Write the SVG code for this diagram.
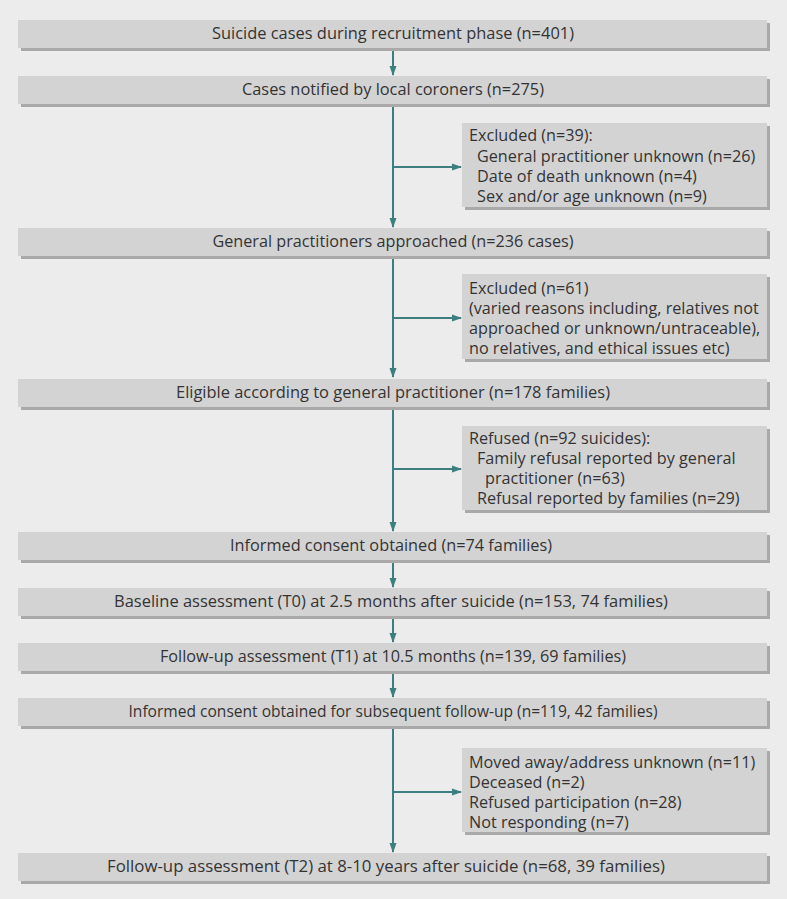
<svg xmlns="http://www.w3.org/2000/svg" width="787" height="899" viewBox="0 0 787 899">
<defs>
<style>
.bg{fill:#ececec}
.box{fill:#d3d3d3}
.sh{fill:#a9a9a9}
.t{font-family:"Open Sans","Liberation Sans",sans-serif;font-size:16.2px;fill:#333333}
.c{text-anchor:middle}
.ln{stroke:#3d7f80;stroke-width:2;fill:none}
</style>
<marker id="ah" markerWidth="10" markerHeight="8" refX="9" refY="4" orient="auto" markerUnits="userSpaceOnUse">
<path d="M0,0.5 L10,4 L0,7.5 Z" fill="#3d7f80"/>
</marker>
</defs>
<rect class="bg" x="0" y="0" width="787" height="899"/>

<g id="connectors">
<line class="ln" x1="393" y1="48" x2="393" y2="75" marker-end="url(#ah)"/>
<line class="ln" x1="393" y1="105" x2="393" y2="227" marker-end="url(#ah)"/>
<line class="ln" x1="393" y1="167" x2="461" y2="167" marker-end="url(#ah)"/>
<line class="ln" x1="393" y1="257" x2="393" y2="377" marker-end="url(#ah)"/>
<line class="ln" x1="393" y1="318" x2="461" y2="318" marker-end="url(#ah)"/>
<line class="ln" x1="393" y1="408" x2="393" y2="531" marker-end="url(#ah)"/>
<line class="ln" x1="393" y1="469" x2="461" y2="469" marker-end="url(#ah)"/>
<line class="ln" x1="393" y1="561" x2="393" y2="587" marker-end="url(#ah)"/>
<line class="ln" x1="393" y1="617" x2="393" y2="642" marker-end="url(#ah)"/>
<line class="ln" x1="393" y1="672" x2="393" y2="697" marker-end="url(#ah)"/>
<line class="ln" x1="393" y1="727" x2="393" y2="852" marker-end="url(#ah)"/>
<line class="ln" x1="393" y1="792" x2="461" y2="792" marker-end="url(#ah)"/>
</g>

<g id="n1"><rect class="sh" x="21" y="23" width="749" height="28"/><rect class="box" x="18" y="20" width="749" height="28"/><text class="t c" x="393" y="39" textLength="362" lengthAdjust="spacingAndGlyphs">Suicide cases during recruitment phase (n=401)</text></g>
<g id="n2"><rect class="sh" x="21" y="79" width="749" height="28"/><rect class="box" x="18" y="76" width="749" height="28"/><text class="t c" x="393" y="95" textLength="302" lengthAdjust="spacingAndGlyphs">Cases notified by local coroners (n=275)</text></g>
<g id="x1"><rect class="sh" x="465" y="126" width="305" height="84"/><rect class="box" x="462" y="123" width="305" height="84"/>
<text class="t" x="469" y="141">Excluded (n=39):</text>
<text class="t" x="477" y="162">General practitioner unknown (n=26)</text>
<text class="t" x="477" y="182">Date of death unknown (n=4)</text>
<text class="t" x="477" y="202">Sex and/or age unknown (n=9)</text></g>
<g id="n3"><rect class="sh" x="21" y="231" width="749" height="28"/><rect class="box" x="18" y="228" width="749" height="28"/><text class="t c" x="393" y="247" textLength="361" lengthAdjust="spacingAndGlyphs">General practitioners approached (n=236 cases)</text></g>
<g id="x2"><rect class="sh" x="465" y="277" width="305" height="85"/><rect class="box" x="462" y="274" width="305" height="85"/>
<text class="t" x="469" y="294">Excluded (n=61)</text>
<text class="t" x="469" y="314">(varied reasons including, relatives not</text>
<text class="t" x="469" y="334">approached or unknown/untraceable),</text>
<text class="t" x="469" y="354">no relatives, and ethical issues etc)</text></g>
<g id="n4"><rect class="sh" x="21" y="382" width="749" height="28"/><rect class="box" x="18" y="379" width="749" height="28"/><text class="t c" x="393" y="398" textLength="434" lengthAdjust="spacingAndGlyphs">Eligible according to general practitioner (n=178 families)</text></g>
<g id="x3"><rect class="sh" x="465" y="429" width="305" height="84"/><rect class="box" x="462" y="426" width="305" height="84"/>
<text class="t" x="469" y="444">Refused (n=92 suicides):</text>
<text class="t" x="477" y="464">Family refusal reported by general</text>
<text class="t" x="485" y="484">practitioner (n=63)</text>
<text class="t" x="477" y="504">Refusal reported by families (n=29)</text></g>
<g id="n5"><rect class="sh" x="21" y="535" width="749" height="28"/><rect class="box" x="18" y="532" width="749" height="28"/><text class="t c" x="391" y="551" textLength="322" lengthAdjust="spacingAndGlyphs">Informed consent obtained (n=74 families)</text></g>
<g id="n6"><rect class="sh" x="21" y="591" width="749" height="28"/><rect class="box" x="18" y="588" width="749" height="28"/><text class="t c" x="391" y="607" textLength="554" lengthAdjust="spacingAndGlyphs">Baseline assessment (T0) at 2.5 months after suicide (n=153, 74 families)</text></g>
<g id="n7"><rect class="sh" x="21" y="646" width="749" height="28"/><rect class="box" x="18" y="643" width="749" height="28"/><text class="t c" x="393" y="662" textLength="466" lengthAdjust="spacingAndGlyphs">Follow-up assessment (T1) at 10.5 months (n=139, 69 families)</text></g>
<g id="n8"><rect class="sh" x="21" y="701" width="749" height="28"/><rect class="box" x="18" y="698" width="749" height="28"/><text class="t c" x="393" y="717" textLength="529" lengthAdjust="spacingAndGlyphs">Informed consent obtained for subsequent follow-up (n=119, 42 families)</text></g>
<g id="x4"><rect class="sh" x="465" y="751" width="305" height="84"/><rect class="box" x="462" y="748" width="305" height="84"/>
<text class="t" x="469" y="768">Moved away/address unknown (n=11)</text>
<text class="t" x="469" y="788">Deceased (n=2)</text>
<text class="t" x="469" y="808">Refused participation (n=28)</text>
<text class="t" x="469" y="828">Not responding (n=7)</text></g>
<g id="n9"><rect class="sh" x="21" y="856" width="749" height="28"/><rect class="box" x="18" y="853" width="749" height="28"/><text class="t c" x="386" y="872" textLength="558" lengthAdjust="spacingAndGlyphs">Follow-up assessment (T2) at 8-10 years after suicide (n=68, 39 families)</text></g>
</svg>
